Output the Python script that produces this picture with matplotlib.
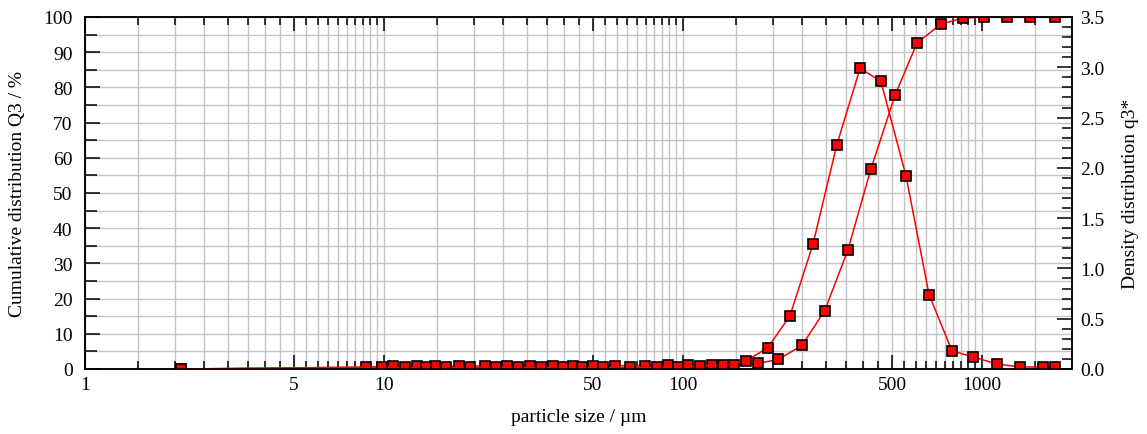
import numpy as np
import matplotlib
matplotlib.use("Agg")
import matplotlib.pyplot as plt
from matplotlib.ticker import NullFormatter

plt.rcParams["font.family"] = ["Liberation Serif", "DejaVu Serif"]
plt.rcParams["font.size"] = 14

# cumulative distribution Q3 (%), left axis
q3_size = [2.09, 8.71, 10.7, 12.9, 14.8, 17.8, 21.8, 25.8, 30.8, 36.7, 42.9,
           50.0, 59.3, 74.6, 89.1, 104, 125, 148, 178, 208, 250, 298, 356,
           425, 512, 606, 729, 864, 1016, 1213, 1448, 1754]
q3_cum = [0.0, 0.5, 0.8, 0.8, 0.8, 0.8, 0.85, 0.85, 0.85, 0.9, 0.9,
          0.9, 0.95, 0.95, 1.0, 1.0, 1.05, 1.1, 1.6, 2.7, 6.7, 16.6, 33.8,
          56.8, 77.8, 92.6, 98.0, 99.7, 100.0, 100.0, 100.0, 100.0]

# density distribution q3*, right axis
dens_size = [2.09, 9.85, 11.8, 13.8, 16.1, 19.4, 23.7, 28.1, 33.5, 39.7, 45.9,
             54.0, 66.5, 81.8, 96.2, 114, 136, 162, 192, 228, 272, 327, 391,
             459, 557, 665, 794, 933, 1122, 1340, 1600, 1754]
dens_q3 = [0.0, 0.02, 0.015, 0.015, 0.015, 0.015, 0.015, 0.015, 0.015, 0.015, 0.015,
           0.015, 0.015, 0.015, 0.02, 0.03, 0.04, 0.08, 0.21, 0.53, 1.24, 2.23, 2.99,
           2.86, 1.92, 0.74, 0.18, 0.12, 0.05, 0.02, 0.02, 0.02]

x_major = [1, 5, 10, 50, 100, 500, 1000]
x_minor = ([1.5, 2, 2.5, 3, 3.5, 4, 4.5, 5.5, 6, 6.5, 7, 7.5, 8, 8.5, 9, 9.5]
           + [15, 20, 25, 30, 35, 40, 45, 55, 60, 65, 70, 75, 80, 85, 90, 95]
           + [150, 200, 250, 300, 350, 400, 450, 550, 600, 650, 700, 750, 800, 850, 900, 950]
           + [1500])

W, H = 1147, 435
fig = plt.figure(figsize=(W / 100, H / 100), dpi=100)
ax = fig.add_axes([85 / W, 1 - 370 / H, (1072 - 85) / W, (370 - 18) / H])
ax2 = ax.twinx()

line_kw = dict(color="#ff0000", lw=1.1, marker="s", ms=7,
               mfc="#ff0000", mec="black", mew=1.2)
ax.plot(q3_size, q3_cum, **line_kw)
ax2.plot(dens_size, dens_q3, **line_kw)

ax.set_xscale("log")
ax.set_xlim(1, 2000)
ax.set_ylim(0, 100)
ax2.set_ylim(0, 3.5)

ax.set_xticks(x_major)
ax.set_xticklabels([str(v) for v in x_major])
ax.set_xticks(x_minor, minor=True)
ax.xaxis.set_minor_formatter(NullFormatter())
ax.set_yticks(np.arange(0, 101, 10))
ax.set_yticks(np.arange(5, 100, 10), minor=True)
ax2.set_yticks(np.arange(0, 3.51, 0.5))
ax2.set_yticklabels([f"{v:.1f}" for v in np.arange(0, 3.51, 0.5)])
ax2.set_yticks(np.arange(0, 3.51, 0.1), minor=True)

ax.tick_params(axis="x", which="both", direction="in", top=True, bottom=True,
               width=1.1, color="black", pad=5)
ax.tick_params(axis="x", which="major", length=10)
ax.tick_params(axis="x", which="minor", length=5.5)
ax.tick_params(axis="y", which="both", direction="in", left=True, right=False,
               width=1.1, pad=9)
ax.tick_params(axis="y", which="major", length=11)
ax.tick_params(axis="y", which="minor", length=8.5)
ax2.tick_params(axis="y", which="both", direction="in", width=1.1, pad=6)
ax2.tick_params(axis="y", which="major", length=11)
ax2.tick_params(axis="y", which="minor", length=7.5)

ax.grid(True, which="both", color="#c4c4c4", lw=1.0)
ax.set_axisbelow(True)

for a in (ax, ax2):
    for s in a.spines.values():
        s.set_linewidth(1.1)
        s.set_color("black")

ax.set_xlabel("particle size / µm")
ax.set_ylabel("Cumulative distribution Q3 / %")
ax2.set_ylabel("Density distribution q3*")
ax.xaxis.set_label_coords(0.5, -0.11)
ax.yaxis.set_label_coords(-0.06, 0.5)
ax2.yaxis.set_label_coords(1.051, 0.5)

fig.savefig("out.png", dpi=100)
